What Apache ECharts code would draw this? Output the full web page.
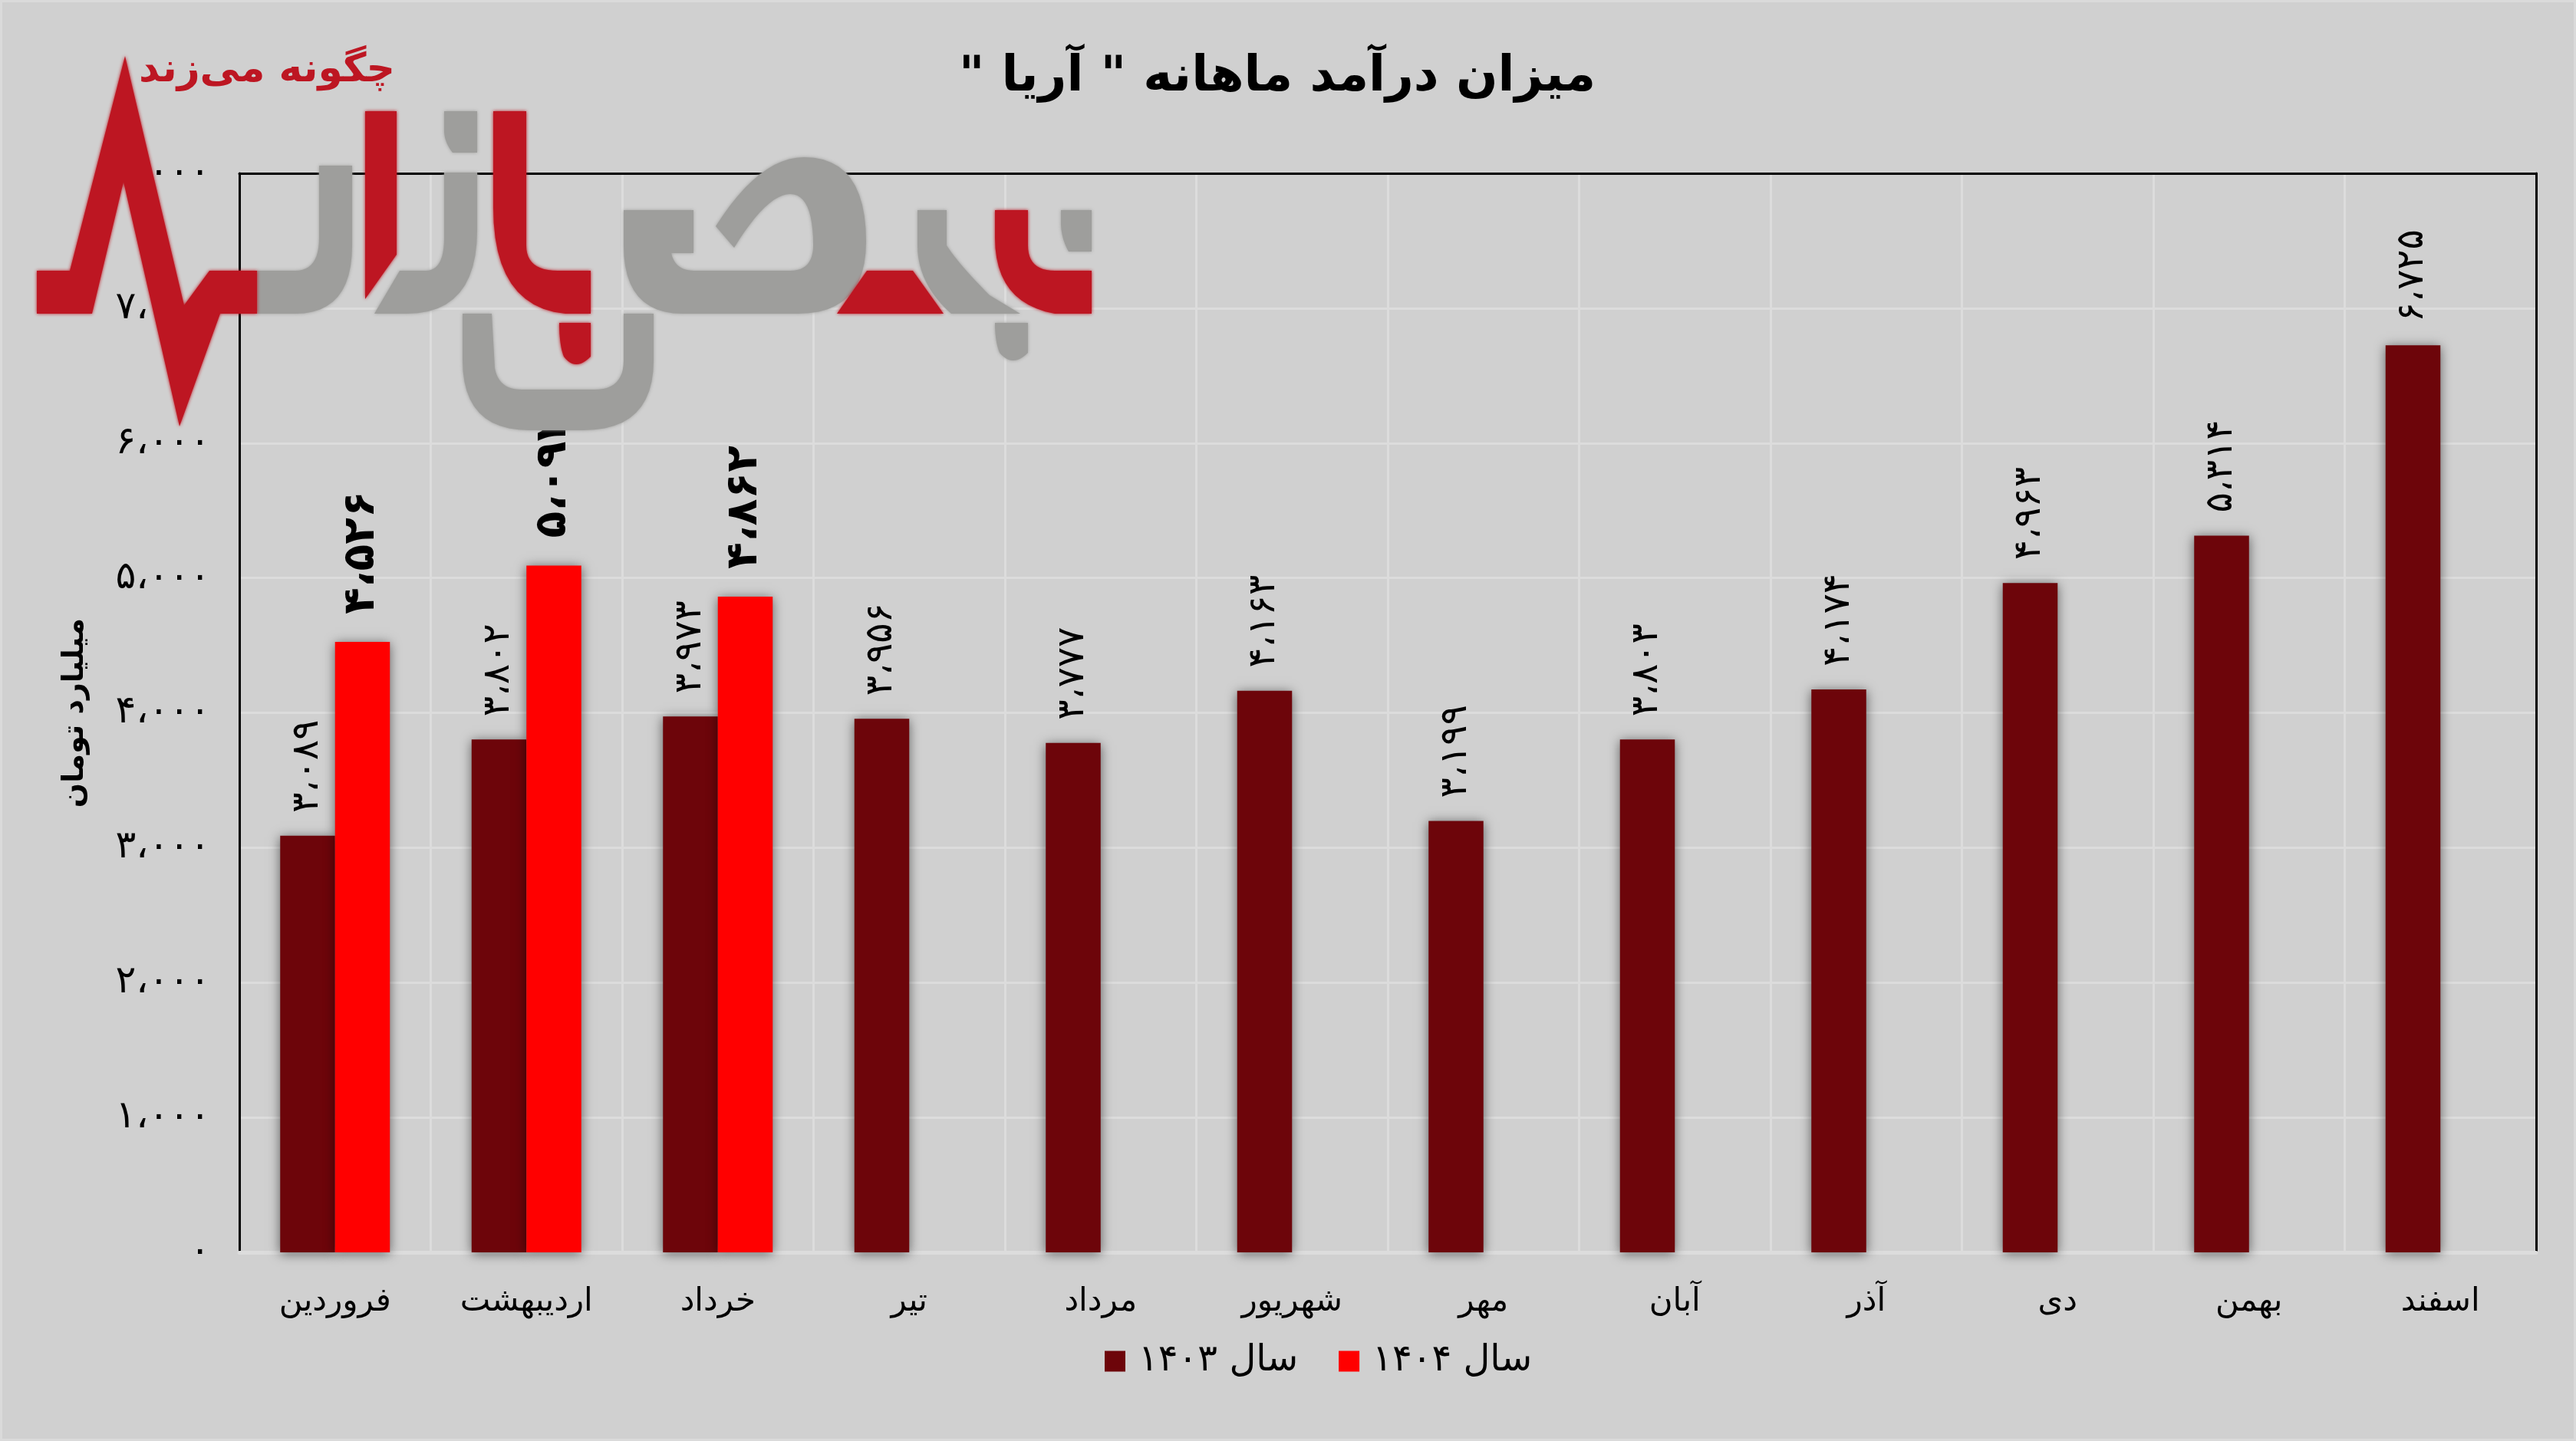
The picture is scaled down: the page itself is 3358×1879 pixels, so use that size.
<!DOCTYPE html>
<html dir="rtl"><head><meta charset="utf-8">
<style>html,body{margin:0;padding:0;background:#d0d0d0}#c{width:3358px;height:1879px}</style>
<script src="https://cdn.jsdelivr.net/npm/echarts@6/dist/echarts.min.js"></script>
</head><body><div id="c"></div>
<script>
const months = ['فروردین','اردیبهشت','خرداد','تیر','مرداد','شهریور','مهر','آبان','آذر','دی','بهمن','اسفند'];
const values1403 = [3089,3802,3973,3956,3777,4163,3199,3803,4174,4963,5314,6725];
const values1404 = [4526,5092,4862,null,null,null,null,null,null,null,null,null];
const yTickLabels = ['۰','۱،۰۰۰','۲،۰۰۰','۳،۰۰۰','۴،۰۰۰','۵،۰۰۰','۶،۰۰۰','۷،۰۰۰','۸،۰۰۰'];
const seriesNames = ['سال ۱۴۰۳','سال ۱۴۰۴'];
const titleText = 'میزان درآمد ماهانه " آریا "';
const yName = 'میلیارد تومان';
const logoText = 'چگونه می‌زند';

const FONT = '"DejaVu Sans"';
const fa = v => String(v).replace(/\d/g, d => '۰۱۲۳۴۵۶۷۸۹'[d]).replace(/^(.)(...)$/, '$1،$2');
const RED = '#bd1622', GRAY = '#9e9e9c';
const logoRed = [
 'M48,353 L91,353 L163,73 L240,398 L273,353 L335,353 L335,409 L287,409 L234,556 L161,237 L120,409 L48,409 Z',
 'M476,145 L517,145 L517,332 L476,390 Z',
 'M643,145 L686,145 L686,320 Q686,353 727,353 L770,353 L770,409 L737,409 Q643,400 643,270 Z',
 'M729,421 L770,421 L770,465 Q750,485 735,465 Q729,450 729,421 Z',
 'M1091,409 L1130,353 L1190,353 L1230,409 Z',
 'M1297,274 L1340,274 L1340,320 Q1340,353 1375,353 L1423,353 L1423,409 L1375,409 Q1297,395 1297,310 Z'
];
const logoGray = [
 'M335,409 L335,353 L385,353 Q416,353 416,310 L416,216 L459,216 L459,320 Q459,409 385,409 Z',
 'M579,145 L622,145 L622,199 L590,199 Q579,185 579,170 Z',
 'M579,225 L622,225 L622,300 Q622,409 530,409 L488,409 L521,353 L555,353 Q579,353 579,310 Z',
 'M603,409 L641,409 L645,480 Q650,508 680,508 L775,508 Q813,508 813,470 L813,409 L852,409 L852,470 Q852,561 760,561 L690,561 Q603,561 603,470 Z',
 'M813,274 L904,274 L904,330 L875,330 Q880,353 905,353 L1030,353 Q1060,353 1060,320 Q1060,253 1030,253 Q1000,253 957,323 L933,295 Q990,205 1048,205 Q1129,205 1129,315 Q1129,409 1040,409 L890,409 Q813,409 813,320 Z',
 'M1196,274 L1234,274 L1234,320 Q1250,345 1290,385 L1330,409 L1240,409 Q1196,370 1196,320 Z',
 'M1297,421 L1340,421 L1340,460 Q1320,480 1303,460 Q1297,445 1297,421 Z',
 'M1383,274 L1423,274 L1423,328 L1393,328 Q1383,310 1383,290 Z'
];
// Flatten the logo outlines (lines and quadratic curves) into polygon points
function outline(d){
  const pts=[]; let cur=null;
  d.replace(/([MLQ])([^MLQZ]*)/g,(m,c,a)=>{
    const n=a.trim().split(/[ ,]+/).map(Number);
    if(c==='Q'){ for(let i=1;i<=12;i++){const t=i/12,u=1-t;
        pts.push([u*u*cur[0]+2*u*t*n[0]+t*t*n[2], u*u*cur[1]+2*u*t*n[1]+t*t*n[3]]);}
      cur=[n[2],n[3]];
    } else { cur=[n[0],n[1]]; pts.push(cur); }
    return m;
  });
  return pts;
}
const logoEls = [
 ...logoGray.map(d => ({type:'polygon', z:100, silent:true, shape:{points:outline(d)}, style:{fill:GRAY, shadowBlur:4, shadowColor:GRAY}})),
 ...logoRed.map(d => ({type:'polygon', z:101, silent:true, shape:{points:outline(d)}, style:{fill:RED, shadowBlur:4, shadowColor:RED}})),
 {type:'text', z:102, silent:true, x:348, y:92, style:{text:logoText, fill:RED, font:'bold 52px '+FONT, textAlign:'center', textVerticalAlign:'middle'}},
 {type:'rect', z:0, silent:true, shape:{x:0,y:0,width:3358,height:1879}, style:{fill:'none', stroke:'#dadada', lineWidth:6}}
];
const shadow = {shadowBlur:14, shadowColor:'rgba(0,0,0,0.55)', shadowOffsetY:2};
const chart = echarts.init(document.getElementById('c'), null, {renderer:'canvas'});
chart.setOption({
 animation:false,
 backgroundColor:'#d0d0d0',
 textStyle:{fontFamily:FONT},
 title:{text:titleText, left:1660, top:96, textAlign:'center', textVerticalAlign:'middle',
   textStyle:{fontFamily:FONT, fontWeight:'bold', fontSize:64, color:'#000'}},
 legend:{data:seriesNames, left:1435, top:1746, itemWidth:27, itemHeight:27, itemGap:53, icon:'rect',
   textStyle:{fontFamily:FONT, fontSize:48, color:'#000', padding:[0,0,0,12]}},
 grid:{left:312, top:226, width:2994, height:1407},
 xAxis:[{type:'category', data:months, position:'bottom',
   axisLine:{onZero:false, lineStyle:{color:'#dcdcdc', width:5}}, axisTick:{show:false},
   axisLabel:{color:'#000', fontSize:42, margin:44, fontFamily:FONT, interval:0},
   splitLine:{show:true, lineStyle:{color:'#dcdcdc', width:3}}},
  {type:'category', data:months, position:'top', axisLine:{onZero:false, lineStyle:{color:'#000', width:3}},
   axisTick:{show:false}, axisLabel:{show:false}, splitLine:{show:false}}],
 yAxis:[{type:'value', min:0, max:8000, interval:1000, position:'left',
   name:yName, nameLocation:'middle', nameGap:195, nameRotate:90,
   nameTextStyle:{color:'#000', fontSize:38, fontWeight:'bold', fontFamily:FONT},
   axisLine:{show:true, onZero:false, lineStyle:{color:'#000', width:3}}, axisTick:{show:false},
   axisLabel:{color:'#000', fontSize:50, margin:38, fontFamily:FONT, formatter:v => yTickLabels[v/1000]},
   splitLine:{show:true, lineStyle:{color:'#dcdcdc', width:3}}},
  {type:'value', min:0, max:8000, interval:1000, position:'right',
   axisLine:{show:true, onZero:false, lineStyle:{color:'#000', width:3}}, axisTick:{show:false},
   axisLabel:{show:false}, splitLine:{show:false}}],
 series:[
  {name:seriesNames[0], type:'bar', data:values1403, barWidth:71.5, barGap:'0%',
   itemStyle:{color:'#6d050a', ...shadow},
   label:{show:true, position:'top', distance:22, rotate:90, align:'left', verticalAlign:'middle',
     offset:[8,0], color:'#000', fontSize:49, fontFamily:FONT, formatter:p => fa(p.value)}},
  {name:seriesNames[1], type:'bar', data:values1404, barWidth:71.5,
   itemStyle:{color:'#ff0000', ...shadow},
   label:{show:true, position:'top', distance:28, rotate:90, align:'left', verticalAlign:'middle',
     offset:[8,0], color:'#000', fontSize:57, fontWeight:'bold', fontFamily:FONT, formatter:p => fa(p.value)}}
 ],
 graphic:{elements:logoEls}
});
</script></body></html>
